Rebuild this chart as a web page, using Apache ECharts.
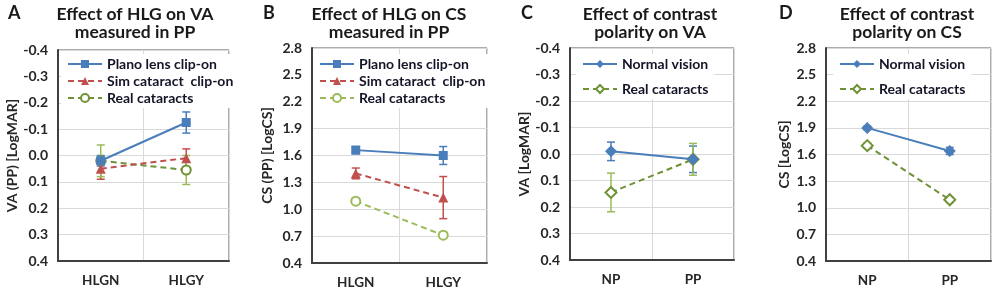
<!DOCTYPE html>
<html>
<head>
<meta charset="utf-8">
<script src="https://cdn.jsdelivr.net/npm/echarts@6/dist/echarts.min.js"></script>
<style>
  html, body { margin: 0; padding: 0; background: #fff; }
  #chart { width: 1000px; height: 294px; }
</style>
</head>
<body>
<div id="chart"></div>
<script>
// categories
const catsHLG = ["HLGN", "HLGY"];
const catsPol = ["NP", "PP"];

// A: VA measured in PP (LogMAR, inverted axis)
const vaPlano = [0.02, -0.125];
const vaPlanoErr = [0.02, 0.04];
const vaSim = [0.05, 0.01];
const vaSimErr = [0.04, 0.035];
const vaReal = [0.02, 0.055];
const vaRealErr = [0.06, 0.055];

// B: CS measured in PP (LogCS)
const csPlano = [1.66, 1.6];
const csPlanoErr = [0.04, 0.1];
const csSim = [1.4, 1.13];
const csSimErr = [0.06, 0.235];
const csReal = [1.09, 0.71];
const csRealErr = [0.03, 0.03];

// C: contrast polarity on VA
const polVaNormal = [-0.01, 0.02];
const polVaNormalErr = [0.035, 0.05];
const polVaReal = [0.145, 0.02];
const polVaRealErr = [0.073, 0.06];

// D: contrast polarity on CS
const polCsNormal = [1.9, 1.64];
const polCsNormalErr = [0.02, 0.04];
const polCsReal = [1.7, 1.09];
const polCsRealErr = [0.03, 0.03];

// axis ranges
const vaAxis = { min: -0.4, max: 0.4, interval: 0.1 };
const csAxis = { min: 0.4, max: 2.8, interval: 0.3 };

const BLUE = "#4A7EBB";
const RED = "#C0504D";
const LGREEN = "#9BBB59";
const OGREEN = "#6F9236";
const FONT = "Lato";

const grids = [
  { left: 58, top: 50, width: 171, height: 211 },
  { left: 312, top: 48, width: 175, height: 215 },
  { left: 570, top: 48, width: 164, height: 212 },
  { left: 826, top: 48, width: 165, height: 213 },
];

function errData(means, errs) {
  return means.map((m, i) => [i, m - errs[i], m + errs[i]]);
}

// error bars drawn through the axes' own coord()
function errSeries(idx, means, errs, color) {
  return {
    type: "custom",
    xAxisIndex: idx,
    yAxisIndex: idx,
    silent: true,
    z: 1,
    encode: { x: 0, y: [1, 2] },
    data: errData(means, errs),
    renderItem: function (params, api) {
      const i = api.value(0);
      const lo = api.coord([i, api.value(1)]);
      const hi = api.coord([i, api.value(2)]);
      const w = 4;
      const st = { stroke: color, lineWidth: 1.5 };
      return {
        type: "group",
        children: [
          { type: "line", shape: { x1: lo[0], y1: lo[1], x2: hi[0], y2: hi[1] }, style: st },
          { type: "line", shape: { x1: lo[0] - w, y1: lo[1], x2: lo[0] + w, y2: lo[1] }, style: st },
          { type: "line", shape: { x1: hi[0] - w, y1: hi[1], x2: hi[0] + w, y2: hi[1] }, style: st },
        ],
      };
    },
  };
}

function lineSeries(idx, name, data, color, symbol, size, dashed, z) {
  return {
    type: "line",
    name: name,
    xAxisIndex: idx,
    yAxisIndex: idx,
    data: data,
    symbol: symbol,
    symbolSize: size,
    z: z || 3,
    lineStyle: { color: color, width: 2, type: dashed ? [6, 4] : "solid" },
    itemStyle: { color: color, borderWidth: 1.5 },
  };
}

function xAxis(idx, cats) {
  return {
    type: "category",
    gridIndex: idx,
    data: cats,
    axisLine: { onZero: false, lineStyle: { color: "#404040", width: 2 } },
    axisTick: { show: false },
    axisLabel: { color: "#262626", fontFamily: FONT, fontWeight: "bold", fontSize: 13.5, margin: 13 },
    splitLine: { show: true, lineStyle: { color: "#D9D9D9" } },
  };
}

function yAxis(idx, range, name, gap, inverse) {
  return {
    type: "value",
    gridIndex: idx,
    min: range.min,
    max: range.max,
    interval: range.interval,
    inverse: inverse,
    name: name,
    nameLocation: "middle",
    nameGap: gap,
    nameTextStyle: { color: "#262626", fontFamily: FONT, fontWeight: "bold", fontSize: 14 },
    axisLine: { show: true, onZero: false, lineStyle: { color: "#404040", width: 2 } },
    axisTick: { show: false },
    axisLabel: {
      color: "#262626", fontFamily: FONT, fontWeight: "bold", fontSize: 14, margin: 10,
      formatter: (v) => (Math.abs(v) < 1e-9 ? "0.0" : v.toFixed(1)),
    },
    splitLine: { lineStyle: { color: "#D9D9D9" } },
  };
}

function legend(left, top, names, gap) {
  return {
    left: left,
    top: top,
    orient: "vertical",
    itemWidth: 34,
    itemHeight: 10,
    itemGap: gap,
    padding: [3, 6],
    backgroundColor: "#fff",
    data: names,
    formatter: (n) => n.split("|")[1],
    textStyle: { color: "#141428", fontFamily: FONT, fontWeight: "bold", fontSize: 14 },
  };
}

function title(x, text) {
  return {
    text: text,
    left: x,
    top: 5,
    textAlign: "center",
    padding: 0,
    textStyle: { color: "#1a1a1a", fontFamily: FONT, fontWeight: "bold", fontSize: 17.5, lineHeight: 18 },
  };
}

function letter(x, text) {
  return {
    text: text,
    left: x,
    top: 4,
    padding: 0,
    textStyle: { color: "#1a1a1a", fontFamily: FONT, fontWeight: "bold", fontSize: 18 },
  };
}

const option = {
  animation: false,
  backgroundColor: "#fff",
  title: [
    title(135, "Effect of HLG on VA\nmeasured in PP"),
    title(389, "Effect of HLG on CS\nmeasured in PP"),
    title(650, "Effect of contrast\npolarity on VA"),
    title(907, "Effect of contrast\npolarity on CS"),
    letter(8, "A"),
    letter(263, "B"),
    letter(521, "C"),
    letter(779, "D"),
  ],
  grid: grids.map((g) => Object.assign({ show: true, borderColor: "#595959", borderWidth: 1 }, g)),
  legend: [
    legend(61, 54, ["A|Plano lens clip-on", "A|Sim cataract  clip-on", "A|Real cataracts"], 3),
    legend(313, 54, ["B|Plano lens clip-on", "B|Sim cataract  clip-on", "B|Real cataracts"], 3),
    legend(576, 54, ["C|Normal vision", "C|Real cataracts"], 11),
    legend(833, 54, ["D|Normal vision", "D|Real cataracts"], 11),
  ],
  xAxis: [xAxis(0, catsHLG), xAxis(1, catsHLG), xAxis(2, catsPol), xAxis(3, catsPol)],
  yAxis: [
    yAxis(0, vaAxis, "VA (PP) [LogMAR]", 38, true),
    yAxis(1, csAxis, "CS (PP) [LogCS]", 38, false),
    yAxis(2, vaAxis, "VA [LogMAR]", 36, true),
    yAxis(3, csAxis, "CS [LogCS]", 35, false),
  ],
  series: [
    errSeries(0, vaPlano, vaPlanoErr, BLUE),
    errSeries(0, vaSim, vaSimErr, RED),
    errSeries(0, vaReal, vaRealErr, LGREEN),
    lineSeries(0, "A|Real cataracts", vaReal, OGREEN, "emptyCircle", 9, true),
    lineSeries(0, "A|Sim cataract  clip-on", vaSim, RED, "triangle", 10, true),
    lineSeries(0, "A|Plano lens clip-on", vaPlano, BLUE, "rect", 9, false, 4),

    errSeries(1, csPlano, csPlanoErr, BLUE),
    errSeries(1, csSim, csSimErr, RED),
    errSeries(1, csReal, csRealErr, LGREEN),
    lineSeries(1, "B|Plano lens clip-on", csPlano, BLUE, "rect", 9, false),
    lineSeries(1, "B|Sim cataract  clip-on", csSim, RED, "triangle", 10, true),
    lineSeries(1, "B|Real cataracts", csReal, LGREEN, "emptyCircle", 9, true),

    errSeries(2, polVaNormal, polVaNormalErr, BLUE),
    errSeries(2, polVaReal, polVaRealErr, LGREEN),
    lineSeries(2, "C|Real cataracts", polVaReal, OGREEN, "emptyDiamond", 11, true),
    lineSeries(2, "C|Normal vision", polVaNormal, BLUE, "diamond", 12, false, 4),

    errSeries(3, polCsNormal, polCsNormalErr, BLUE),
    errSeries(3, polCsReal, polCsRealErr, LGREEN),
    lineSeries(3, "D|Normal vision", polCsNormal, BLUE, "diamond", 12, false),
    lineSeries(3, "D|Real cataracts", polCsReal, OGREEN, "emptyDiamond", 11, true),
  ],
};

const chart = echarts.init(document.getElementById("chart"));
chart.setOption(option);
</script>
</body>
</html>
